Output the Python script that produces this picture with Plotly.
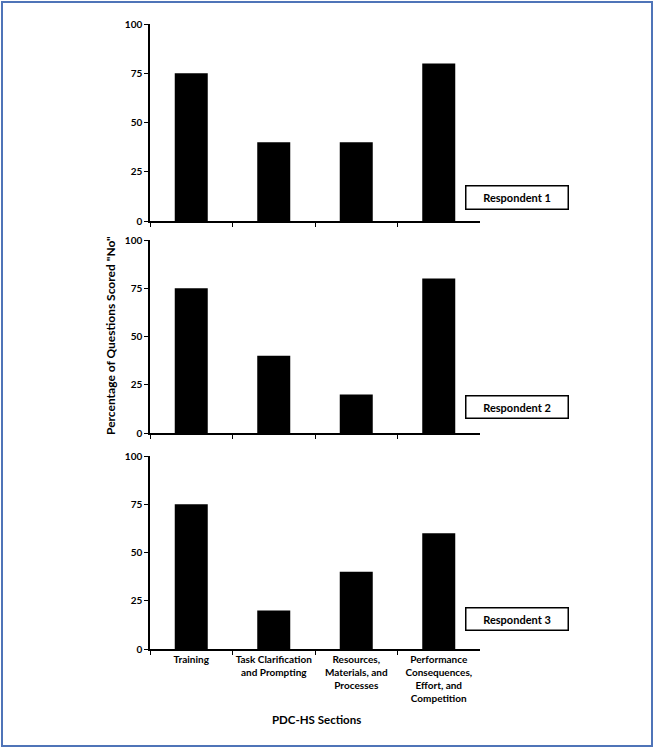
import plotly.graph_objects as go

categories = ["Training", "Task Clarification<br>and Prompting", "Resources,<br>Materials, and<br>Processes",
              "Performance<br>Consequences,<br>Effort, and<br>Competition"]
respondent_1 = [75, 40, 40, 80]
respondent_2 = [75, 40, 20, 80]
respondent_3 = [75, 20, 40, 60]
series = [("Respondent 1", respondent_1), ("Respondent 2", respondent_2), ("Respondent 3", respondent_3)]
y_ticks = [0, 25, 50, 75, 100]

W, H = 655, 748
FONT = "Lato"

def py(pix):
    return 1 - pix / H

# pixel positions of 0 and 100 for each panel
panel_px = [(221, 24), (433, 240), (649, 456)]
box_px = [(186, 209), (396, 418), (608, 630)]

fig = go.Figure()
for i, (name, vals) in enumerate(series):
    ax = "" if i == 0 else str(i + 1)
    fig.add_trace(go.Bar(x=categories, y=vals, name=name, width=0.4,
                         marker=dict(color="black", line=dict(width=0)),
                         xaxis="x" + ax, yaxis="y" + ax, showlegend=False))
    p0, p100 = panel_px[i]
    fig.layout["yaxis" + ax] = dict(
        domain=[py(p0), py(p100)], range=[0, 100], tickvals=y_ticks,
        showline=True, linecolor="black", linewidth=1.5, ticks="outside", ticklen=4,
        tickcolor="black", showgrid=False, zeroline=False, automargin=False,
        tickfont=dict(family=FONT, size=10, color="black", weight="bold"),
        anchor="x" + ax, fixedrange=True)
    fig.layout["xaxis" + ax] = dict(
        domain=[150 / W, 480 / W], type="category", showline=True, linecolor="black",
        linewidth=1.5, ticks="outside", tickson="boundaries", ticklen=4, tickcolor="black",
        showticklabels=(i == 2), showgrid=False, anchor="y" + ax, tickangle=0,
        automargin=False, fixedrange=True,
        tickfont=dict(family=FONT, size=10, color="black", weight="bold"))
    b0, b1 = box_px[i]
    fig.add_annotation(x=517 / W, y=py((b0 + b1) / 2), xref="paper", yref="paper",
                       xanchor="center", yanchor="middle",
                       text="<b>" + name + "</b>", showarrow=False, width=99, height=b1 - b0 - 3,
                       bordercolor="black", borderwidth=1.5, bgcolor="white",
                       font=dict(family=FONT, size=11, color="black"))

fig.add_annotation(x=110 / W, y=py(336), xref="paper", yref="paper",
                   xanchor="center", yanchor="middle",
                   text="<b>Percentage of Questions Scored \"No\"</b>", textangle=-90,
                   showarrow=False, font=dict(family=FONT, size=12, color="black"))
fig.add_annotation(x=316 / W, y=py(719), xref="paper", yref="paper",
                   xanchor="center", yanchor="middle",
                   text="<b>PDC-HS Sections</b>", showarrow=False,
                   font=dict(family=FONT, size=11.5, color="black"))

fig.add_shape(type="rect", xref="paper", yref="paper", x0=2 / W, x1=652 / W, y0=py(746), y1=py(2),
              line=dict(color="#4F74B8", width=2))

fig.update_layout(width=W, height=H, margin=dict(l=0, r=0, t=0, b=0, autoexpand=False),
                  paper_bgcolor="white", plot_bgcolor="white", bargap=0.6)
fig.write_html("out.html", config={"displayModeBar": False},
               post_script="document.body.style.margin='0';document.body.style.padding='0';")
